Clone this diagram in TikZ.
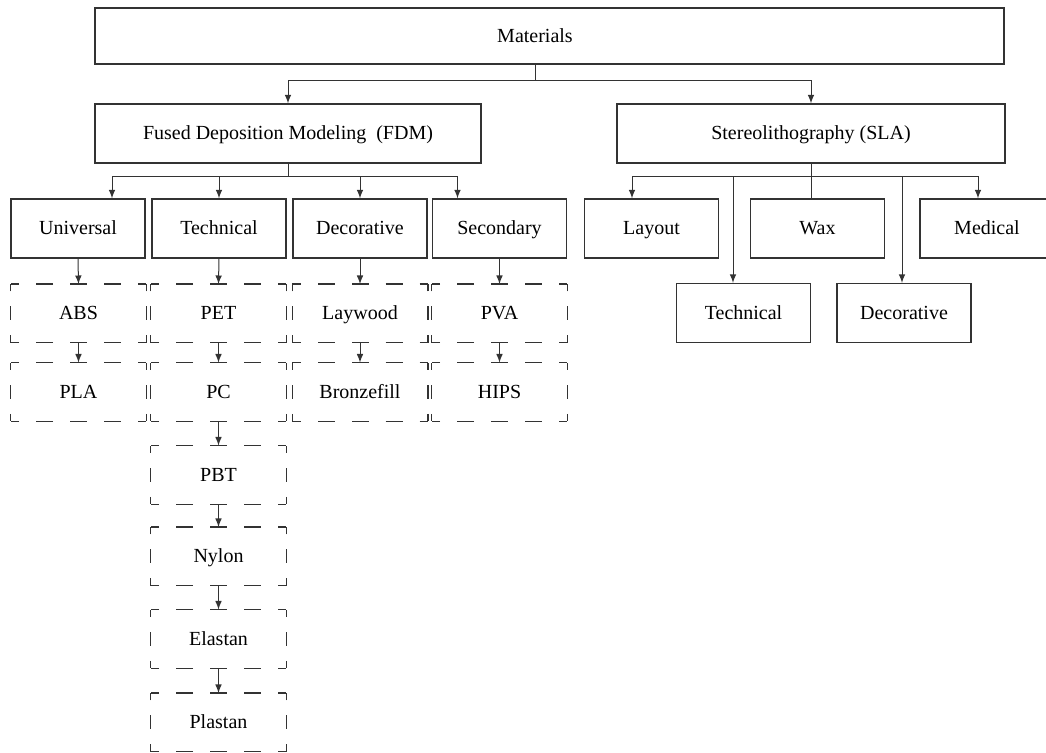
\documentclass[tikz,border=0pt]{standalone}
\usepackage{fontspec}
\setmainfont{Liberation Serif}

\tikzset{
  box/.style={draw=black!80, line width=0.6pt, minimum width=67pt, minimum height=29.5pt,
    inner sep=0pt, text height=8.4pt, text depth=2pt},
  dbox/.style={minimum width=67.5pt, minimum height=29pt, inner sep=0pt,
    text height=8.4pt, text depth=2pt},
  hside/.style={draw=black!80, line width=0.6pt, dash pattern=on 8.5pt off 8.5pt, dash phase=4.25pt},
  vside/.style={draw=black!80, line width=0.6pt, dash pattern=on 7pt off 7.5pt, dash phase=3.5pt},
  link/.style={draw=black!80, ->, line width=0.5pt},
}

% dashed frame drawn side by side from the middle, so the corners stay closed
\newcommand{\dashedframe}[1]{%
  \draw[hside] (#1.north)--(#1.north west) (#1.north)--(#1.north east)
    (#1.south)--(#1.south west) (#1.south)--(#1.south east);
  \draw[vside] (#1.west)--(#1.north west) (#1.west)--(#1.south west)
    (#1.east)--(#1.north east) (#1.east)--(#1.south east);}

\begin{document}
\begin{tikzpicture}[x=0.5pt,y=0.5pt,>=latex]
\useasboundingbox (0,0) rectangle (1046,-753);

% top
\node[box, minimum width=454.5pt, minimum height=28pt,
  label={[xshift=-7.25pt]center:Materials}] (mat) at (549.5,-36) {};

\node[box, minimum width=193pt] (fdm) at (288,-133.5) {Fused Deposition Modeling~ (FDM)};
\node[box, minimum width=194pt] (sla) at (811,-133.5) {Stereolithography (SLA)};

% FDM groups
\node[box] (uni) at (78,-228.5) {Universal};
\node[box] (tec) at (219,-228.5) {Technical};
\node[box] (dec) at (360,-228.5) {Decorative};
\node[box] (sec) at (499.5,-228.5) {Secondary};

% SLA groups
\node[box] (lay) at (651.5,-228.5) {Layout};
\node[box] (wax) at (817.5,-228.5) {Wax};
\node[box] (med) at (987,-228.5) {Medical};
\node[box] (stec) at (743.5,-313) {Technical};
\node[box] (sdec) at (904,-313) {Decorative};

% FDM materials
\foreach \name/\txt/\x/\y in {abs/ABS/78.5/313.5, pla/PLA/78.5/392,
    pet/PET/218.5/313.5, pc/PC/218.5/392, pbt/PBT/218.5/475,
    nyl/Nylon/218.5/556.5, ela/Elastan/218.5/639, pls/Plastan/218.5/722.5,
    lwd/Laywood/360/313.5, bzf/Bronzefill/360/392,
    pva/PVA/499.5/313.5, hips/HIPS/499.5/392}{
  \node[dbox] (\name) at (\x,-\y) {\txt};
  \dashedframe{\name}
}

% connectors
\coordinate (topbus) at (535,-81);
\draw[link,-] (mat.south -| topbus) -- (topbus);
\draw[link] (topbus) -| (fdm.north);
\draw[link] (topbus) -| (sla.north);

\coordinate (fdmbus) at (290,-177);
\draw[link,-] (fdm.south) -- (fdm.south |- fdmbus);
\draw[link] (fdmbus) -| ([xshift=17pt]uni.north);
\draw[link] (fdmbus) -| (tec.north);
\draw[link] (fdmbus) -| (dec.north);
\draw[link] (fdmbus) -| ([xshift=-21pt]sec.north);

\coordinate (slabus) at (811,-177);
\draw[link,-] (sla.south) -- (sla.south |- wax.north);
\draw[link] (slabus) -| ([xshift=-9.75pt]lay.north);
\draw[link] (slabus) -| ([xshift=-4.5pt]med.north);
\draw[link] ([xshift=-5.25pt]stec.north |- slabus) -- ([xshift=-5.25pt]stec.north);
\draw[link] ([xshift=-1pt]sdec.north |- slabus) -- ([xshift=-1pt]sdec.north);

\draw[link] (uni.south) -- (abs.north);
\draw[link] (tec.south) -- (pet.north);
\draw[link] (dec.south) -- (lwd.north);
\draw[link] (sec.south) -- (pva.north);

\draw[link] (abs.south) -- (pla.north);
\draw[link] (pet.south) -- (pc.north);
\draw[link] (pc.south) -- (pbt.north);
\draw[link] (pbt.south) -- (nyl.north);
\draw[link] (nyl.south) -- (ela.north);
\draw[link] (ela.south) -- (pls.north);
\draw[link] (lwd.south) -- (bzf.north);
\draw[link] (pva.south) -- (hips.north);

\end{tikzpicture}
\end{document}
